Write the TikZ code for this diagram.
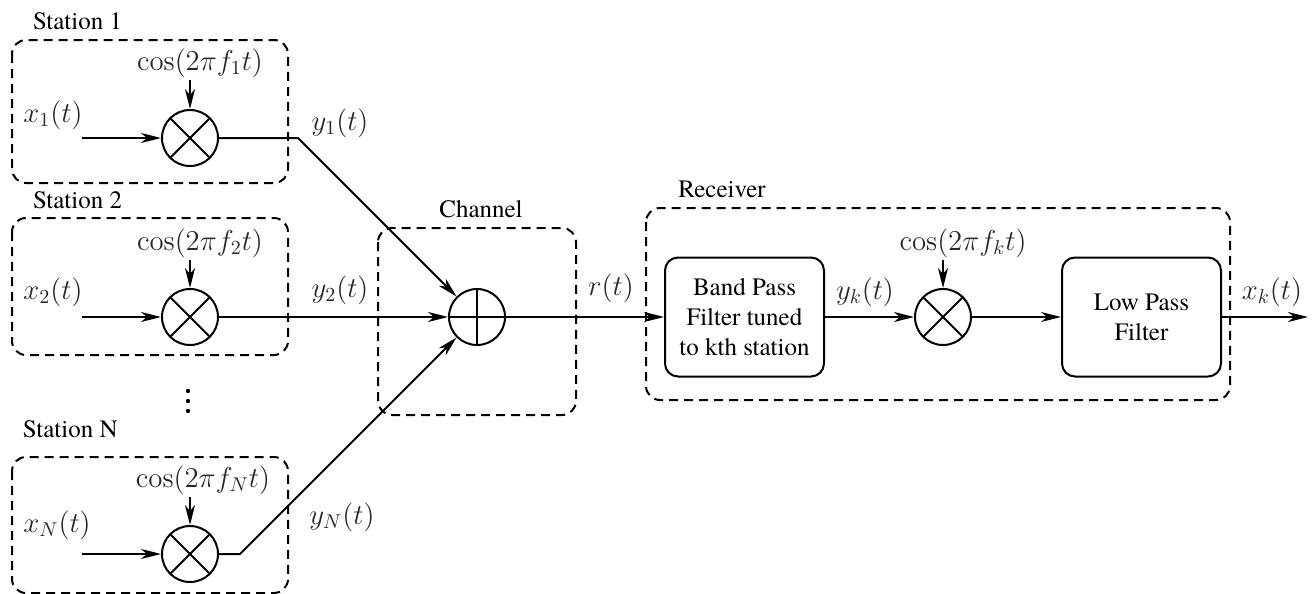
\documentclass[tikz,border=0pt]{standalone}
\usepackage[no-math]{fontspec}
\IfFontExistsTF{texgyretermes-regular.otf}
  {\setmainfont{texgyretermes-regular.otf}}
  {\setmainfont{Liberation Serif}}
\usetikzlibrary{arrows.meta}
\begin{document}
\begin{tikzpicture}[x=0.5pt,y=-0.5pt,line width=1pt,
  arr/.style={-{Stealth[length=10pt,width=5pt,inset=3pt]}},
  grp/.style={draw,dash pattern=on 4.5pt off 3pt,rounded corners=7pt},
  mixer/.style={circle,draw,minimum size=28pt,inner sep=0pt,
    path picture={
      \draw (path picture bounding box.north west) -- (path picture bounding box.south east);
      \draw (path picture bounding box.south west) -- (path picture bounding box.north east);}},
  adder/.style={circle,draw,minimum size=28pt,inner sep=0pt,
    path picture={
      \draw (path picture bounding box.north) -- (path picture bounding box.south);
      \draw (path picture bounding box.west) -- (path picture bounding box.east);}},
  sig/.style={text=black!85,inner sep=1pt,font=\fontsize{14.4}{17}\selectfont},
  lbl/.style={inner sep=0pt,font=\rmfamily\fontsize{12.5}{15}\selectfont},
  block/.style={draw,rounded corners=6.5pt,minimum width=79.5pt,minimum height=59.5pt,
    align=center,inner sep=1pt,font=\rmfamily\fontsize{12.5}{15}\selectfont}]
\useasboundingbox (0,0) rectangle (1313,594);

% dashed group frames
\draw[grp] (12,40) rectangle (288,183);
\draw[grp] (12,218) rectangle (288,355);
\draw[grp] (12,457) rectangle (288,593);
\draw[grp] (378,228) rectangle (576,415);
\draw[grp] (646,208) rectangle (1230,400);

\node[lbl,anchor=base west] (st1) at (32,29) {Station 1};
\node[lbl,anchor=base west] (st2) at (32,208) {Station 2};
\node[lbl,anchor=base west] (stN) at (22,437) {Station N};
\node[lbl,anchor=base] (chl) at (481,217) {Channel};
\node[lbl,anchor=base] (rxl) at (722,197) {Receiver};

% vertical ellipsis between stations
\fill (188,391) circle (1.1pt) (188,401) circle (1.1pt) (188,411) circle (1.1pt);

% adder in the channel
\node[adder] (sum) at (477,317) {};

% station 1
\coordinate (in1) at (82,138);
\node[mixer] (m1) at (190,138) {};
\node[sig] (c1) at (200,63) {$\cos(2\pi f_1 t)$};
\node[sig] (x1) at (53,115) {$x_1(t)$};
\node[sig] (y1) at (340,123) {$y_1(t)$};
\coordinate (k1) at (298,138);
\draw[arr] (in1) -- (m1);
\draw[arr] (c1.south -| m1.north) -- (m1.north);
\draw[arr] (m1) -- (k1) -- (sum.135);

% station 2
\coordinate (in2) at (82,317);
\node[mixer] (m2) at (190,317) {};
\node[sig] (c2) at (200,243) {$\cos(2\pi f_2 t)$};
\node[sig] (x2) at (53,292) {$x_2(t)$};
\node[sig] (y2) at (340,290) {$y_2(t)$};
\draw[arr] (in2) -- (m2);
\draw[arr] (c2.south -| m2.north) -- (m2.north);
\draw[arr] (m2) -- (sum);

% station N
\coordinate (inN) at (82,554);
\node[mixer] (mN) at (190,554) {};
\node[sig] (cN) at (203,480) {$\cos(2\pi f_N t)$};
\node[sig] (xN) at (57,525) {$x_N(t)$};
\node[sig] (yN) at (342,517) {$y_N(t)$};
\coordinate (kN) at (240,554);
\draw[arr] (inN) -- (mN);
\draw[arr] (cN.south -| mN.north) -- (mN.north);
\draw[arr] (mN) -- (kN) -- (sum.225);

% receiver
\node[sig] (r) at (611,288) {$r(t)$};
\node[block] (bpf) at (744.5,317) {Band Pass\\Filter tuned\\to kth station};
\node[mixer] (mk) at (943,317) {};
\node[sig] (ck) at (963,243) {$\cos(2\pi f_k t)$};
\node[sig] (yk) at (865,292) {$y_k(t)$};
\node[block] (lpf) at (1141.5,317) {Low Pass\\Filter};
\node[sig] (xk) at (1272,292) {$x_k(t)$};
\coordinate (out) at (1308,317);
\draw[arr] (sum) -- (bpf);
\draw[arr] (bpf) -- (mk);
\draw[arr] (ck.south -| mk.north) -- (mk.north);
\draw[arr] (mk) -- (lpf);
\draw[arr] (lpf) -- (out);
\end{tikzpicture}
\end{document}
